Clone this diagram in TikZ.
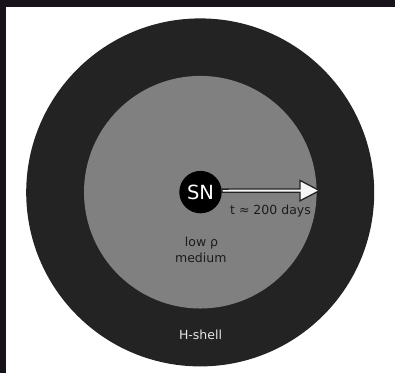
\documentclass[tikz,border=0pt]{standalone}
\usepackage{fontspec}
\setmainfont{DejaVu Sans}
\usetikzlibrary{calc}
\definecolor{bgdark}{HTML}{18131A}
\definecolor{shell}{HTML}{232323}
\definecolor{medgray}{HTML}{808080}
\definecolor{txtdark}{HTML}{1C1C1C}
\definecolor{txtlight}{HTML}{E6E6E6}
\tikzset{
  disc/.style={circle, inner sep=0pt, draw=none},
  lbl/.style={inner sep=0pt, anchor=base, font=\fontsize{12.5}{14}\selectfont},
}
\begin{document}
\begin{tikzpicture}[x=1pt,y=-1pt]
\useasboundingbox (0,0) rectangle (395,373);
\fill[bgdark] (0,0) rectangle (395,373);
\fill[white] (6,7) rectangle (395,373);
\node[disc, fill=shell, minimum size=348pt] (outer) at (200.2,192.4) {};
\node[disc, fill=medgray, minimum size=232.6pt] (inner) at (200.3,192.2) {};
\node[disc, fill=black, minimum size=42.4pt, text=white,
      font=\fontsize{19.5}{22}\selectfont] (sn) at (200.5,192.1) {SN};
% arrow
\coordinate (a0) at ($(sn.east)+(0,-1.4)$);
\coordinate (tip) at (319.5,190.6);
\draw[draw=shell, line width=1.3pt, fill=white!93!gray, line join=miter]
  ($(a0)+(0,-1.6)$) -- ($(tip)+(-19.5,-1.6)$) -- ($(tip)+(-19.5,-10.2)$) -- (tip)
  -- ($(tip)+(-19.5,10.2)$) -- ($(tip)+(-19.5,1.6)$) -- ($(a0)+(0,1.6)$) -- cycle;
\node[lbl, text=txtdark] (tlabel) at (270.5,214.3) {t ≈ 200 days};
\node[lbl, text=txtdark] (low) at (201.5,246.5) {low ρ};
\node[lbl, text=txtdark] (med) at (200.8,262.5) {medium};
\node[lbl, text=txtlight] (hshell) at (200.5,339.3) {H-shell};
\end{tikzpicture}
\end{document}
